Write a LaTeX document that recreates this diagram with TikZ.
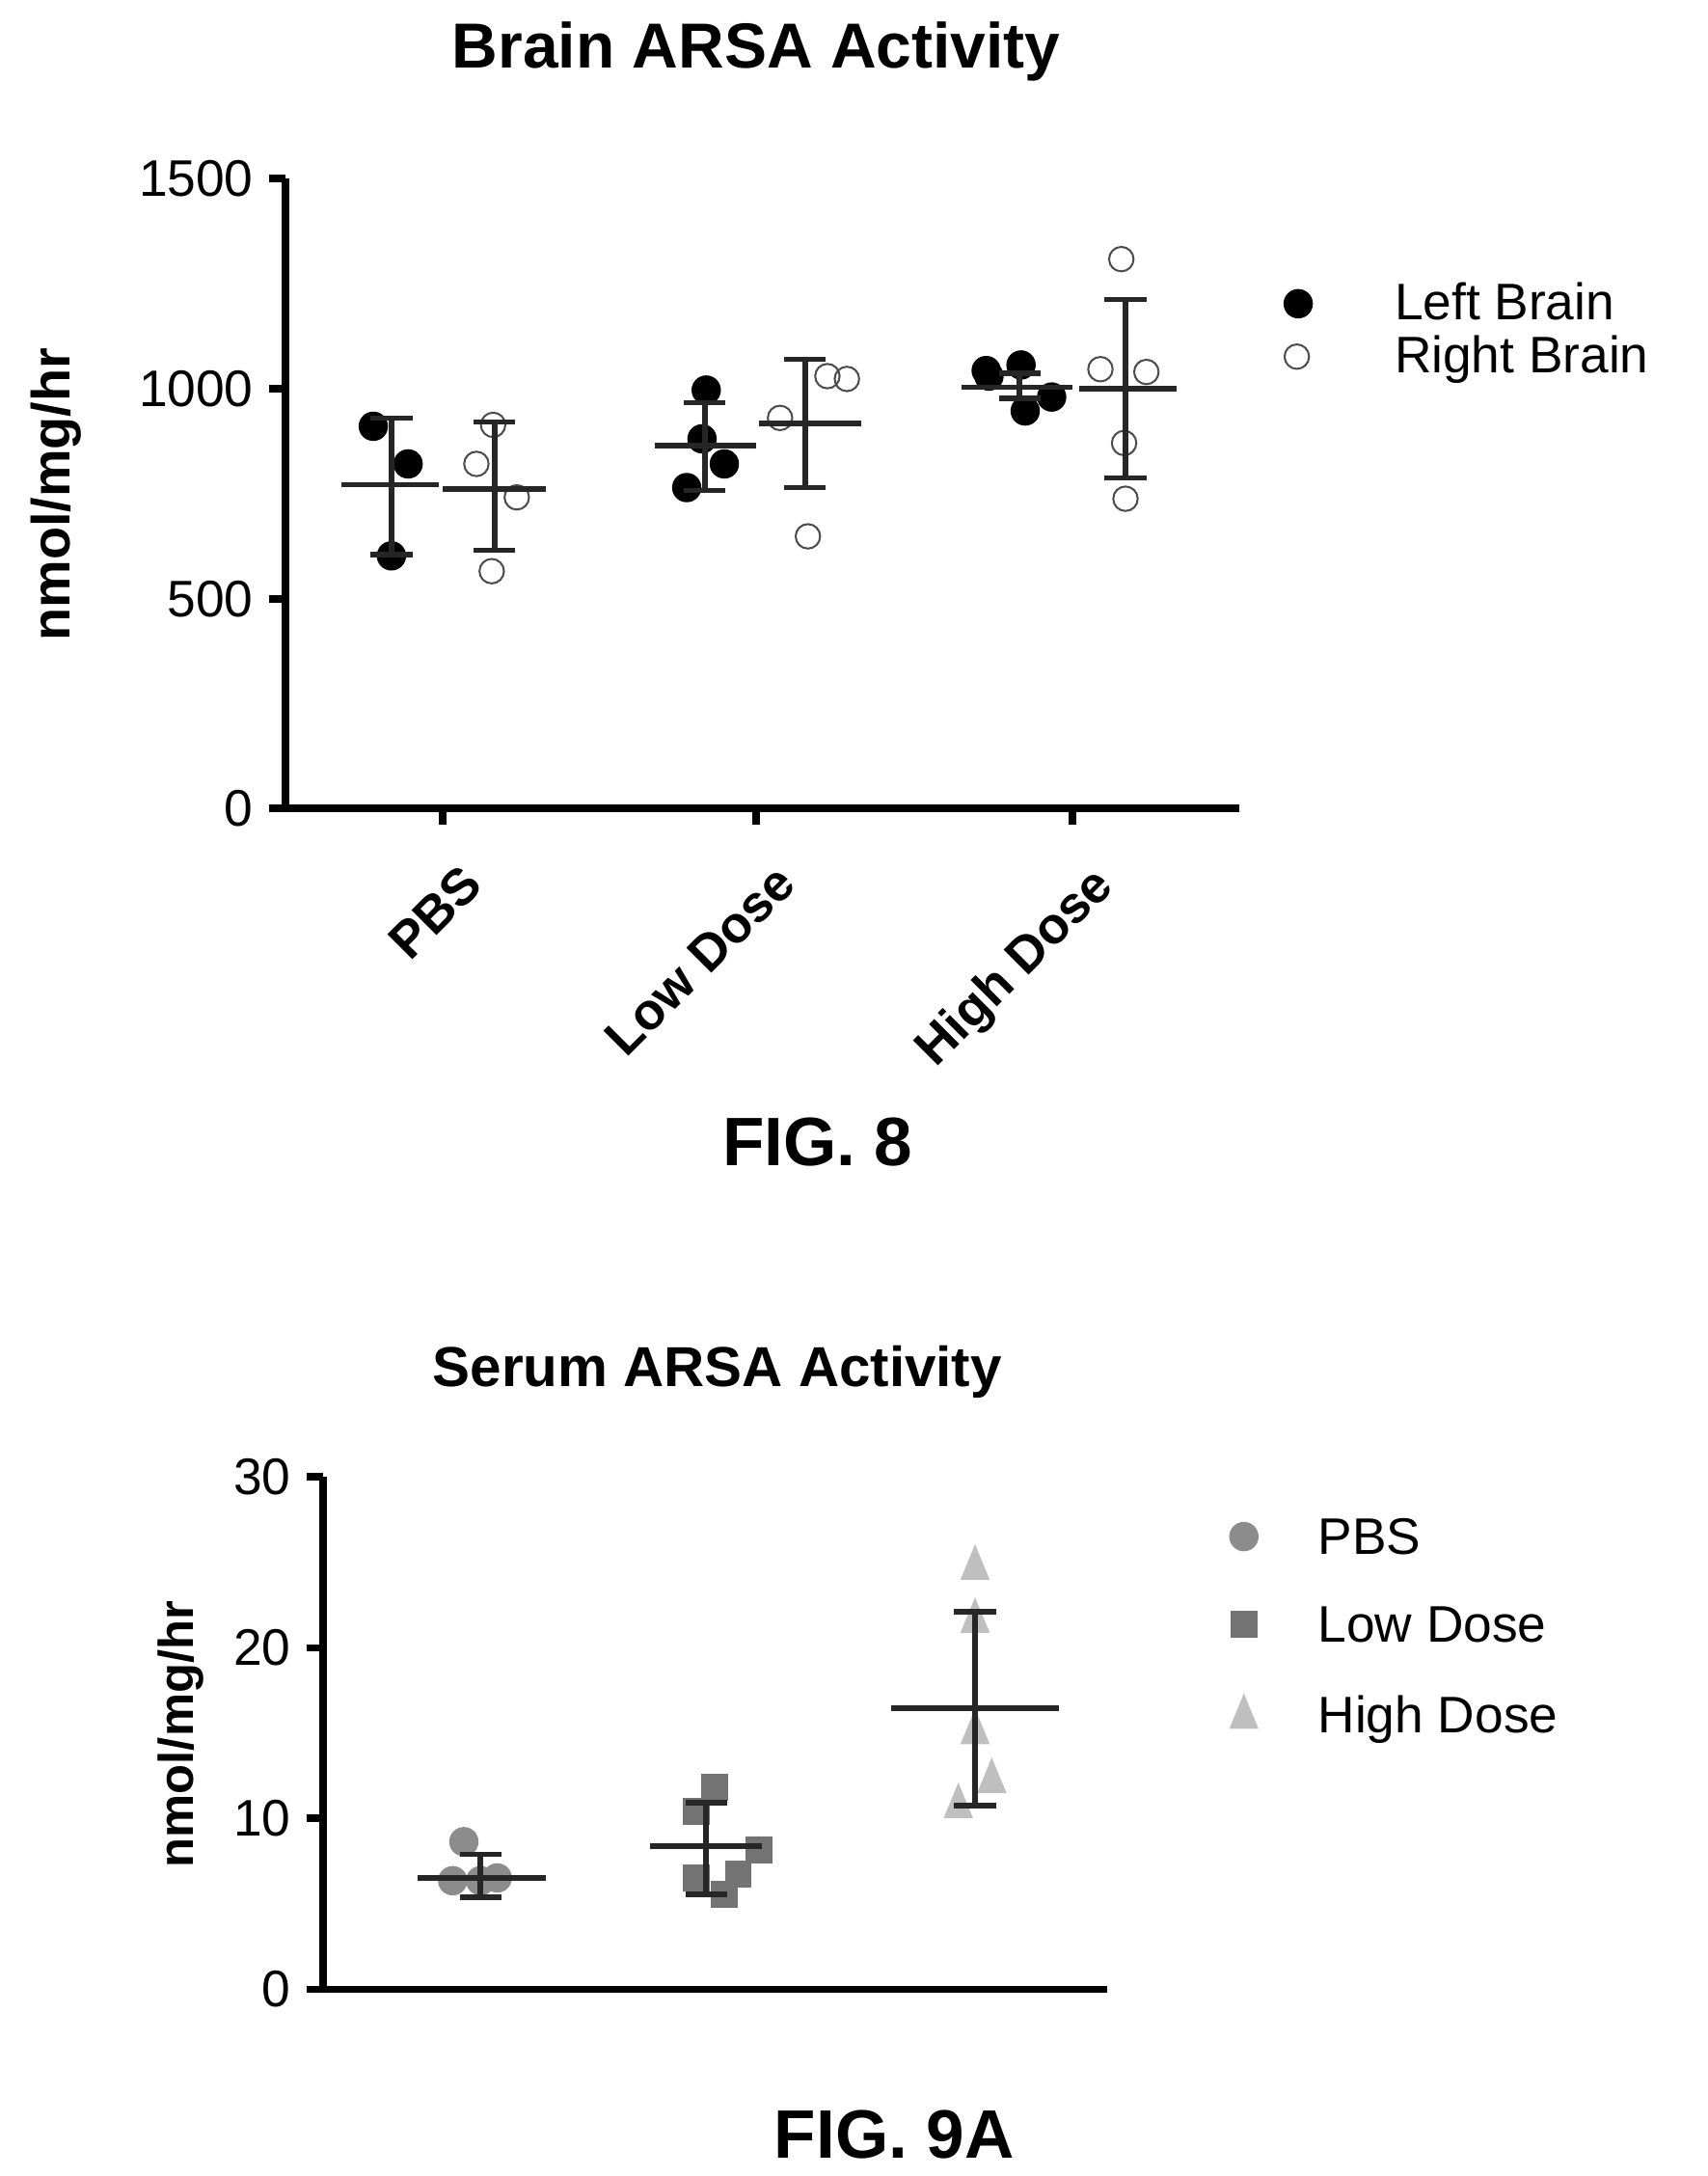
\documentclass[tikz,border=0pt]{standalone}
\usepackage{fontspec}
\setmainfont{Liberation Sans}
\usetikzlibrary{shapes.geometric}

\tikzset{
  axis/.style={line width=3pt, black},
  bar/.style={line width=2.2pt, black!85},
  filled/.style={circle, fill=black, inner sep=0pt, minimum size=12pt},
  open/.style={circle, draw=black!70, line width=0.8pt, inner sep=0pt, minimum size=10pt},
  pbsdot/.style={circle, fill=black!45, inner sep=0pt, minimum size=12pt},
  lowdot/.style={rectangle, fill=black!55, inner sep=0pt, minimum size=11pt},
  highdot/.style={isosceles triangle, shape border rotate=90, fill=black!25, inner sep=0pt, minimum width=12pt, minimum height=10pt},
  ticklab/.style={font=\fontsize{21}{23}\selectfont, anchor=east},
  leglab/.style={font=\fontsize{21}{23}\selectfont, anchor=west},
}

\begin{document}
\begin{tikzpicture}[x=0.02cm, y=-0.02cm]
  \useasboundingbox (0,0) rectangle (1226,1562);
  % FIG. 8
  \node (title8) at (543,37) {\fontsize{26}{28}\selectfont\bfseries Brain ARSA Activity};
  \node[rotate=90] (ylab8) at (40,355) {\fontsize{22}{24}\selectfont\bfseries nmol/mg/hr};
  \draw[axis] (205,128) -- (205,580) -- (890,580);
  \foreach \y/\v in {128/1500, 279/1000, 430/500, 580/0} {
    \draw[axis] (193,\y) -- (205,\y);
    \node[ticklab] at (188,\y) {\v};
  }
  \foreach \x/\t in {318/PBS, 543/Low Dose, 770/High Dose} {
    \draw[axis] (\x,580) -- (\x,592);
    \node[rotate=45, anchor=north east, font=\fontsize{21}{23}\selectfont\bfseries] at (\x+12,610) {\t};
  }
  % data points
  \foreach \x/\y in {268/306, 293/333, 281/399, 507/280, 504/315, 493/350, 520/333,
                     708/266, 733/262, 736/295, 755/285, 710/270}
    \node[filled] at (\x,\y) {};
  \foreach \x/\y in {354/305, 342/333, 371/357, 353/410, 560/300, 594/270, 608/272, 580/385,
                     805/186, 823/267, 807/318, 808/358, 790/265}
    \node[open] at (\x,\y) {};
  % mean and SD
  \foreach \a/\b/\m/\c/\lo/\hi in {245/315/348/281/300/398, 318/392/351/355/303/395,
                                   470/543/320/506/289/352, 545/618/304/578/258/350,
                                   690/770/278/732/268/286, 775/845/279/808/215/343} {
    \draw[bar] (\a,\m) -- (\b,\m);
    \draw[bar] (\c,\lo) -- (\c,\hi);
    \draw[bar] (\c-15,\lo) -- (\c+15,\lo);
    \draw[bar] (\c-15,\hi) -- (\c+15,\hi);
  }
  \node[filled] (legL) at (932,218) {};
  \node[leglab] at (995,216) {Left Brain};
  \node[open] (legR) at (931,256) {};
  \node[leglab] at (995,258) {Right Brain};
  \node (fig8) at (587,820) {\fontsize{28}{30}\selectfont\bfseries FIG. 8};

  % FIG. 9A
  \node (title9) at (515,985) {\fontsize{23}{25}\selectfont\bfseries Serum ARSA Activity};
  \node[rotate=90] (ylab9) at (130,1245) {\fontsize{20}{22}\selectfont\bfseries nmol/mg/hr};
  \draw[axis] (232,1060) -- (232,1428) -- (795,1428);
  \foreach \y/\v in {1060/30, 1183/20, 1305/10, 1428/0} {
    \draw[axis] (220,\y) -- (232,\y);
    \node[ticklab] at (215,\y) {\v};
  }
  \foreach \x/\y in {333/1322, 345/1350, 357/1348, 325/1350}
    \node[pbsdot] at (\x,\y) {};
  \foreach \x/\y in {513/1283, 500/1300, 545/1328, 500/1348, 530/1345, 520/1360}
    \node[lowdot] at (\x,\y) {};
  \foreach \x/\y in {700/1127, 700/1165, 700/1245, 712/1280, 688/1298}
    \node[highdot] at (\x,\y) {};
  \foreach \a/\b/\m/\c/\lo/\hi in {300/392/1348/345/1331/1362, 467/547/1325/507/1294/1360,
                                   640/760/1226/700/1157/1296} {
    \draw[bar] (\a,\m) -- (\b,\m);
    \draw[bar] (\c,\lo) -- (\c,\hi);
    \draw[bar] (\c-15,\lo) -- (\c+15,\lo);
    \draw[bar] (\c-15,\hi) -- (\c+15,\hi);
  }
  \node[pbsdot] (legP) at (893,1103) {};
  \node[leglab] at (940,1103) {PBS};
  \node[lowdot] (legLo) at (893,1166) {};
  \node[leglab] at (940,1166) {Low Dose};
  \node[highdot] (legH) at (893,1234) {};
  \node[leglab] at (940,1234) {High Dose};
  \node (fig9) at (642,1532) {\fontsize{28}{30}\selectfont\bfseries FIG. 9A};
\end{tikzpicture}
\end{document}
